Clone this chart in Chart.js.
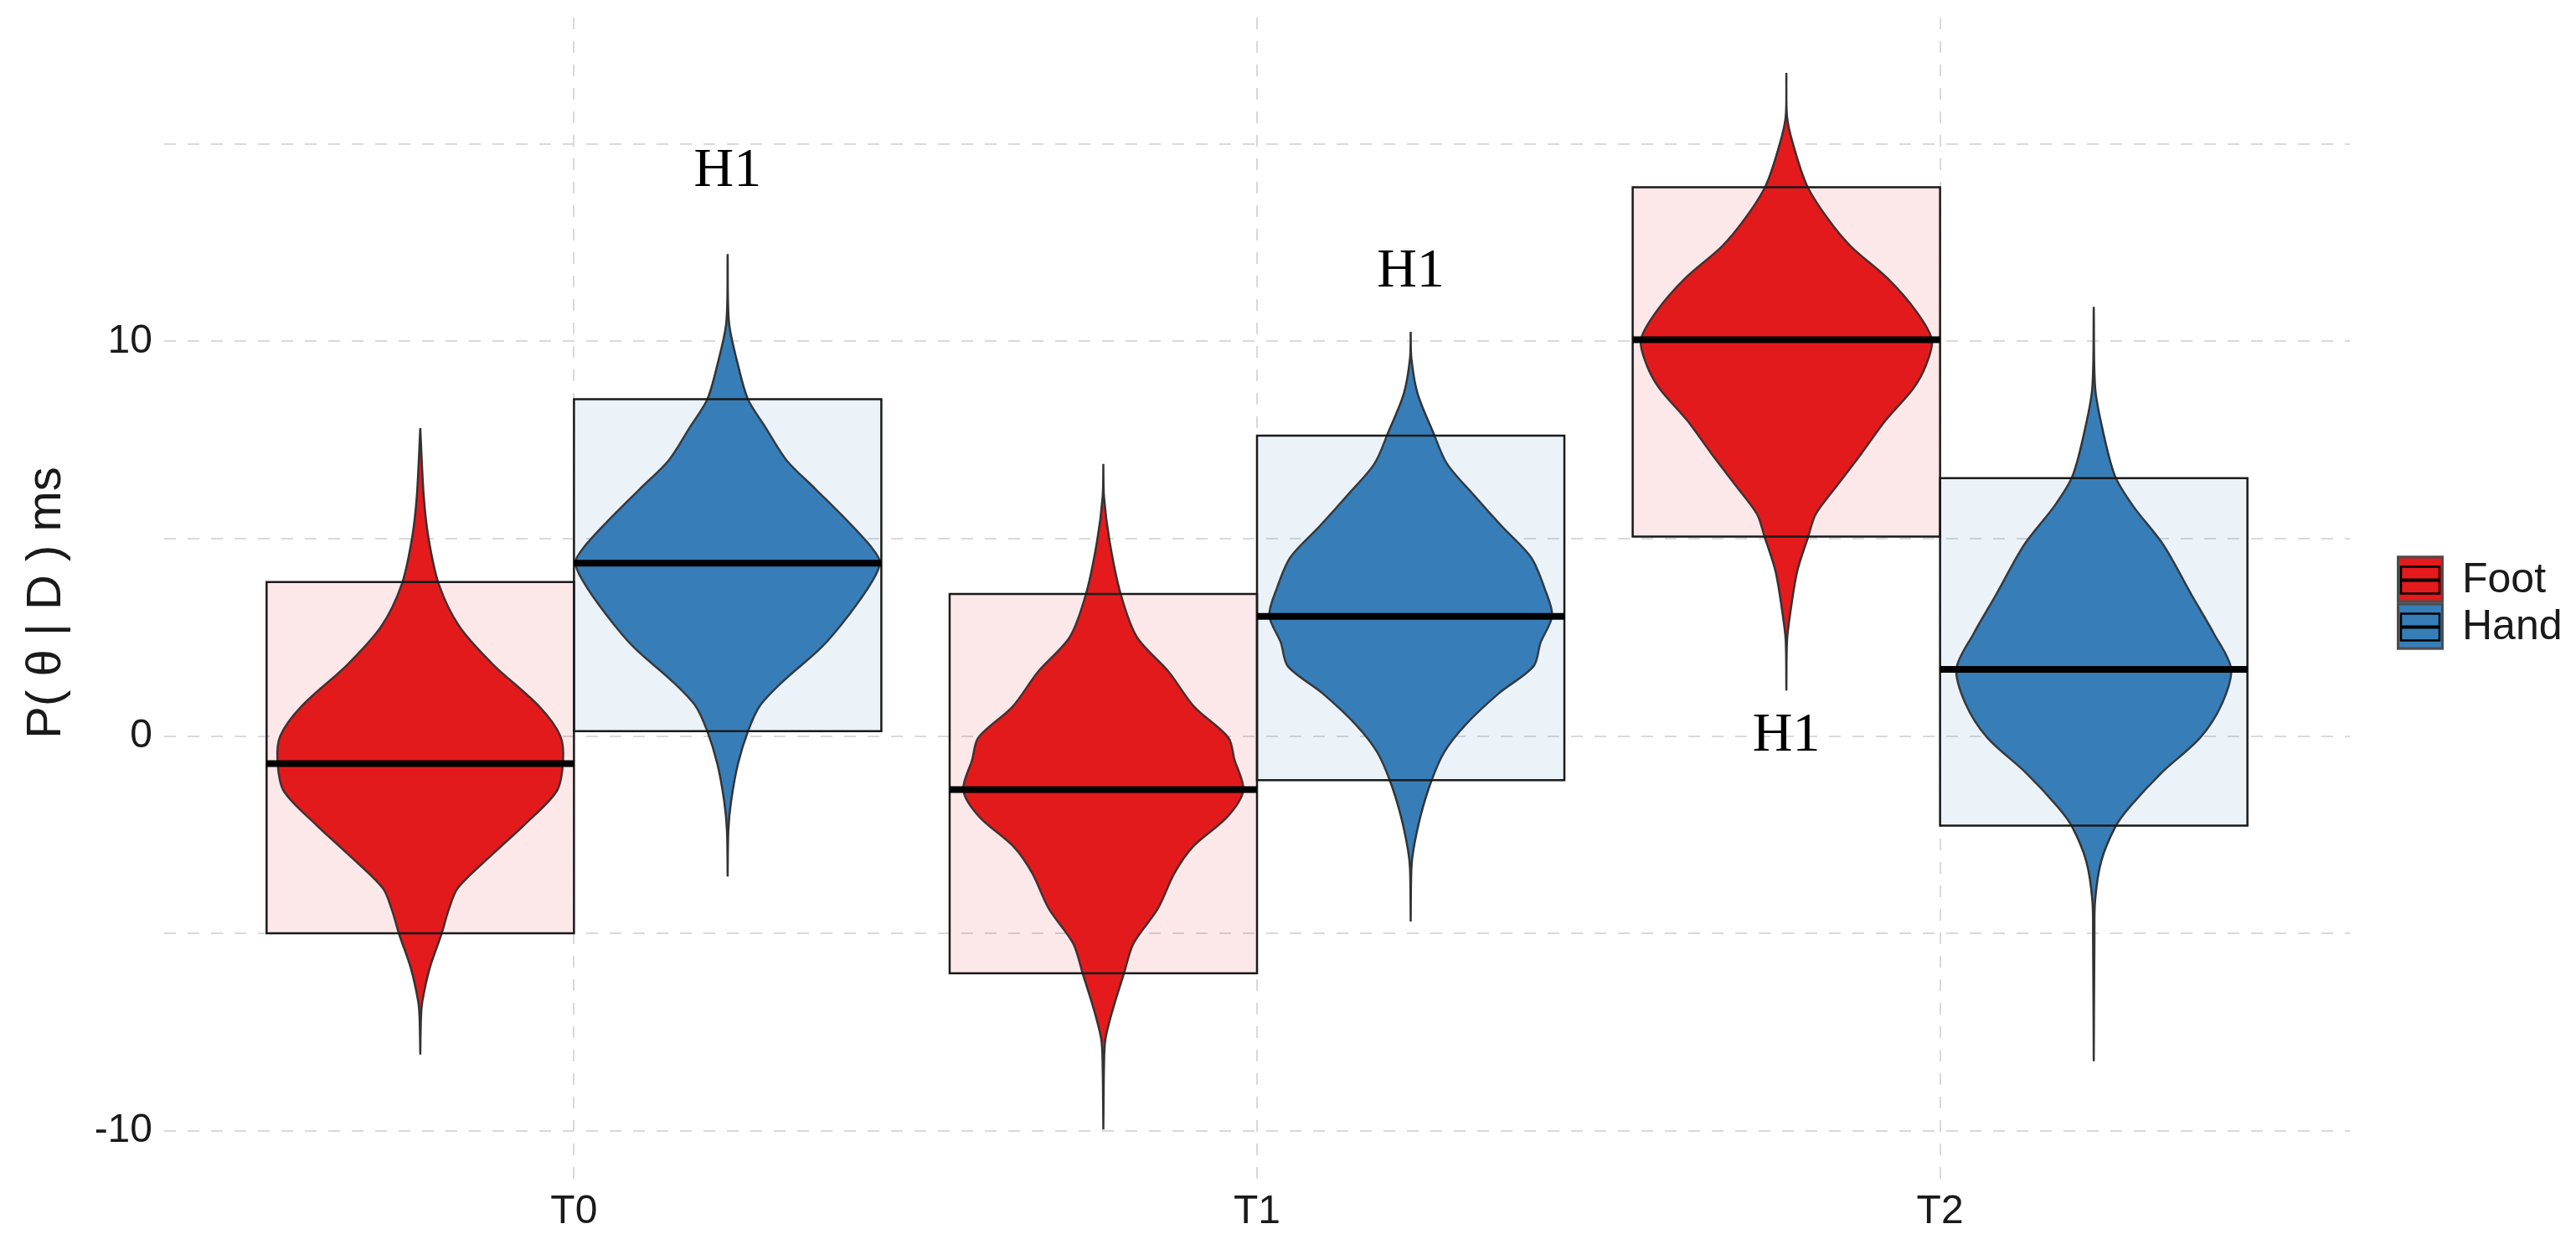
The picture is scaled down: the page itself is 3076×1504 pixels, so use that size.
<!DOCTYPE html>
<html>
<head>
<meta charset="utf-8">
<title>Violin chart</title>
<script src="https://cdn.jsdelivr.net/npm/chart.js@4.4.1/dist/chart.umd.min.js"></script>
<style>
    html, body { margin: 0; padding: 0; background: #ffffff; }
    #wrap { width: 3076px; height: 1504px; position: relative; }
</style>
</head>
<body>
<div id="wrap"><canvas id="violinChart"></canvas></div>
<script>
const timePoints = ['T0', 'T1', 'T2'];
const groups = ['Foot', 'Hand'];
const groupColors = ['#E41A1C', '#377EB8'];
const boxFills = ['rgba(228, 26, 28, 0.1)', 'rgba(55, 126, 184, 0.1)'];

// interval boxes and medians, one value per time point
const footLow = [-5.00, -6.01, 5.05];
const footHigh = [3.90, 3.60, 13.90];
const footMedian = [-0.70, -1.36, 10.04];
const handLow = [0.12, -1.12, -2.27];
const handHigh = [8.53, 7.61, 6.53];
const handMedian = [4.38, 3.03, 1.69];

// violin outlines, [value, half width] from top to bottom
const footT0 = [[7.80, 0], [6.09, 0.005], [5.02, 0.012], [3.85, 0.027], [2.78, 0.057], [1.82, 0.106],
    [0.75, 0.174], [0.00, 0.205], [-0.64, 0.209], [-1.39, 0.200], [-2.24, 0.153], [-2.99, 0.106],
    [-3.85, 0.055], [-4.38, 0.042], [-5.02, 0.031], [-5.87, 0.014], [-6.73, 0.003], [-7.16, 0.001], [-8.07, 0]];
const handT0 = [[12.21, 0], [10.47, 0.002], [9.41, 0.015], [8.52, 0.030], [7.83, 0.055], [6.99, 0.086],
    [6.25, 0.129], [5.40, 0.178], [4.77, 0.211], [4.40, 0.223], [3.93, 0.212], [3.08, 0.178],
    [2.24, 0.137], [1.40, 0.082], [0.76, 0.047], [0.13, 0.030], [-0.71, 0.015], [-1.66, 0.005], [-2.40, 0.001], [-3.56, 0]];
const footT1 = [[6.89, 0], [6.06, 0.001], [4.95, 0.009], [3.62, 0.025], [2.51, 0.049], [1.62, 0.096],
    [0.74, 0.133], [-0.04, 0.183], [-0.60, 0.192], [-1.37, 0.205], [-2.04, 0.182], [-2.81, 0.131],
    [-3.48, 0.104], [-4.37, 0.080], [-5.26, 0.044], [-6.03, 0.030], [-6.92, 0.014], [-7.69, 0.003], [-8.36, 0.001], [-9.97, 0]];
const handT1 = [[10.24, 0], [9.57, 0.001], [8.68, 0.010], [7.69, 0.033], [6.90, 0.053], [6.11, 0.092],
    [5.32, 0.133], [4.53, 0.176], [3.74, 0.196], [3.05, 0.207], [2.36, 0.190], [1.77, 0.180],
    [1.08, 0.129], [0.28, 0.080], [-0.41, 0.049], [-1.15, 0.030], [-1.99, 0.015], [-2.88, 0.004], [-3.37, 0.001], [-4.70, 0]];
const footT2 = [[16.80, 0], [15.69, 0.001], [14.98, 0.010], [13.95, 0.030], [13.12, 0.060], [12.41, 0.094],
    [11.58, 0.149], [10.76, 0.190], [10.04, 0.213], [9.42, 0.205], [8.81, 0.186], [7.99, 0.145],
    [7.16, 0.110], [6.34, 0.074], [5.62, 0.043], [5.05, 0.032], [4.18, 0.016], [3.15, 0.006], [2.43, 0.001], [1.15, 0]];
const handT2 = [[10.87, 0], [8.84, 0.002], [7.84, 0.012], [6.59, 0.031], [5.84, 0.057], [4.84, 0.102],
    [3.58, 0.143], [2.59, 0.176], [1.71, 0.201], [0.83, 0.188], [-0.04, 0.156], [-0.92, 0.100],
    [-1.79, 0.053], [-2.29, 0.032], [-3.17, 0.011], [-4.17, 0.002], [-5.17, 0.001], [-8.24, 0]];

// text annotations
const noteText = ['H1', 'H1', 'H1'];
const noteX = [1.225, 2.225, 2.775];
const noteY = [14.3, 11.75, 0.0];

const yGridValues = [-10, -5, 0, 5, 10, 15];
const yLabelValues = [-10, 0, 10];

Chart.defaults.font.family = '"Liberation Sans", Arial, sans-serif';
Chart.defaults.color = '#1a1a1a';

var dodge = 0.225;
var boxWidth = 0.45;

function violinPoints(center, outline) {
    var right = outline.map(p => ({ x: center + p[1], y: p[0] }));
    var left = outline.slice().reverse().map(p => ({ x: center - p[1], y: p[0] }));
    return right.concat(left);
}

function boxPoints(x0, x1, lo, hi) {
    return [{ x: x0, y: lo }, { x: x0, y: hi }, { x: x1, y: hi }, { x: x1, y: lo }, { x: x0, y: lo }];
}

var violins = [[footT0, handT0], [footT1, handT1], [footT2, handT2]];
var lows = [footLow, handLow];
var highs = [footHigh, handHigh];
var medians = [footMedian, handMedian];

var datasets = [];

timePoints.forEach((t, i) => {
    groups.forEach((g, k) => {
        var center = (i + 1) + (k === 0 ? -dodge : dodge);
        var x0 = center - boxWidth / 2;
        var x1 = center + boxWidth / 2;

        // median bar on top
        datasets.push({
            label: g + ' median ' + t,
            data: [{ x: x0, y: medians[k][i] }, { x: x1, y: medians[k][i] }],
            showLine: true,
            borderColor: '#000000',
            borderWidth: 8,
            borderCapStyle: 'butt',
            pointRadius: 0,
            fill: false,
            order: 0
        });

        // interval box
        datasets.push({
            label: g + ' box ' + t,
            data: boxPoints(x0, x1, lows[k][i], highs[k][i]),
            showLine: true,
            borderColor: '#1a1a1a',
            borderWidth: 2.5,
            borderCapStyle: 'square',
            backgroundColor: boxFills[k],
            pointRadius: 0,
            fill: 'shape',
            tension: 0,
            order: 1
        });

        // violin
        datasets.push({
            label: g + ' ' + t,
            data: violinPoints(center, violins[i][k]),
            showLine: true,
            borderColor: '#333333',
            borderWidth: 2.5,
            backgroundColor: groupColors[k],
            pointRadius: 0,
            fill: 'shape',
            tension: 0.3,
            order: 2
        });
    });
});

const notesPlugin = {
    id: 'notes',
    afterDatasetsDraw(chart) {
        var ctx = chart.ctx;
        var xs = chart.scales.x, ys = chart.scales.y;
        ctx.save();
        ctx.fillStyle = '#000000';
        ctx.font = '66px "Liberation Serif", "Times New Roman", serif';
        ctx.textAlign = 'center';
        ctx.textBaseline = 'middle';
        noteText.forEach((txt, i) => {
            ctx.fillText(txt, xs.getPixelForValue(noteX[i]), ys.getPixelForValue(noteY[i]));
        });
        ctx.restore();
    }
};

const legendPlugin = {
    id: 'groupLegend',
    afterDraw(chart) {
        var ctx = chart.ctx;
        var area = chart.chartArea;
        var key = 56;
        var x = area.right + 56;
        var top = (area.top + area.bottom) / 2 - groups.length * key / 2;
        ctx.save();
        groups.forEach((g, i) => {
            var y = top + i * key;
            ctx.fillStyle = groupColors[i];
            ctx.fillRect(x, y, key, key);
            ctx.strokeStyle = '#4d4d4d';
            ctx.lineWidth = 3;
            ctx.strokeRect(x + 1.5, y + 1.5, key - 3, key - 3);
            ctx.strokeStyle = '#000000';
            ctx.lineWidth = 2.5;
            ctx.strokeRect(x + 5, y + 13, key - 10, key - 24);
            ctx.lineWidth = 4;
            ctx.beginPath();
            ctx.moveTo(x + 5, y + key / 2 + 1);
            ctx.lineTo(x + key - 5, y + key / 2 + 1);
            ctx.stroke();
            ctx.fillStyle = '#1a1a1a';
            ctx.font = '50px "Liberation Sans", Arial, sans-serif';
            ctx.textAlign = 'left';
            ctx.textBaseline = 'middle';
            ctx.fillText(g, x + key + 22, y + key / 2 + 2);
        });
        ctx.restore();
    }
};

var gridStyle = { color: '#d9d9d9', lineWidth: 2, drawTicks: false };
var borderStyle = { display: false, dash: [14, 14] };

window.chartInstances = {};

window.chartInstances['violinChart'] = new Chart(document.getElementById('violinChart').getContext('2d'), {
    type: 'scatter',
    data: { datasets: datasets },
    options: {
        responsive: true,
        maintainAspectRatio: false,
        animation: false,
        layout: { padding: { top: 21, right: 270, left: 0, bottom: 0 } },
        plugins: {
            legend: { display: false },
            tooltip: { enabled: false }
        },
        scales: {
            x: {
                type: 'linear',
                min: 0.4,
                max: 3.6,
                afterBuildTicks: scale => { scale.ticks = timePoints.map((t, i) => ({ value: i + 1 })); },
                afterFit: scale => {
                    scale.height = 86;
                    scale.paddingLeft = 0;
                    scale.paddingRight = 0;
                },
                ticks: {
                    callback: v => timePoints[v - 1],
                    font: { size: 48 },
                    padding: 0,
                    autoSkip: false,
                    maxRotation: 0
                },
                grid: gridStyle,
                border: borderStyle
            },
            y: {
                type: 'linear',
                min: -11.45,
                max: 18.2,
                afterBuildTicks: scale => { scale.ticks = yGridValues.map(v => ({ value: v })); },
                afterFit: scale => {
                    scale.width = 196;
                    scale.paddingTop = 0;
                    scale.paddingBottom = 0;
                },
                ticks: {
                    callback: v => yLabelValues.includes(v) ? String(v) : '',
                    font: { size: 48 },
                    padding: 14
                },
                grid: gridStyle,
                border: borderStyle,
                title: {
                    display: true,
                    text: 'P( θ | D ) ms',
                    font: { size: 58 },
                    padding: { top: 21, bottom: 0 }
                }
            }
        }
    },
    plugins: [notesPlugin, legendPlugin]
});
</script>
</body>
</html>
